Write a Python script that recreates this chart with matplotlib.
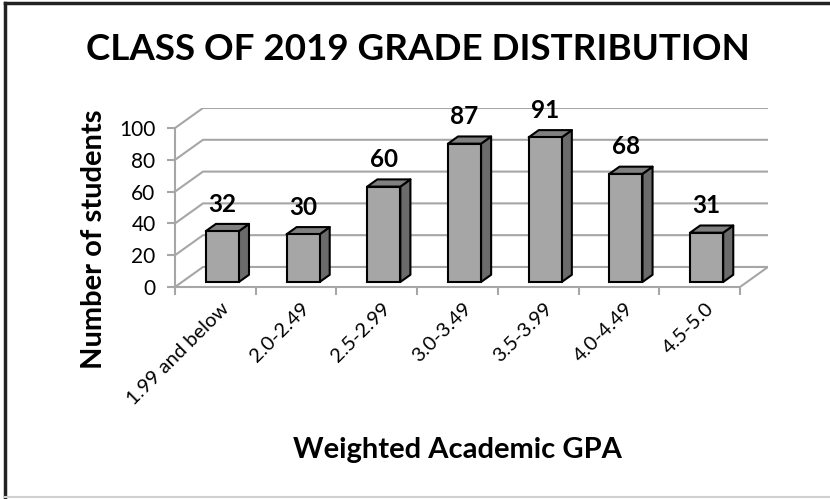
import numpy as np
import matplotlib
matplotlib.use("Agg")
import matplotlib.pyplot as plt
import matplotlib.transforms as mtransforms
from matplotlib.patches import Polygon
from matplotlib.lines import Line2D

# data
categories = ["1.99 and below", "2.0-2.49", "2.5-2.99", "3.0-3.49",
              "3.5-3.99", "4.0-4.49", "4.5-5.0"]
students = [32, 30, 60, 87, 91, 68, 31]
y_ticks = [0, 20, 40, 60, 80, 100]

# fake 3d settings (depth offset in data units)
DX = 0.347   # category units for full depth
DY = 12.6    # value units for full depth
d0, d1 = 0.25, 0.61   # bar front/back depth
bar_w = 0.41
front_c = "#a6a6a6"
side_c = "#6b6b6b"
top_c = "#808080"
grid_c = "#a6a6a6"

plt.rcParams["font.family"] = ["Lato", "DejaVu Sans"]

fig = plt.figure(figsize=(8.3, 4.99), dpi=100)
W, H = 830, 499
left, right, top, bottom = 175, 768, 108, 287
ax = fig.add_axes([left / W, 1 - bottom / H, (right - left) / W, (bottom - top) / H])
n = len(categories)
ax.set_xlim(0, n + DX)
ax.set_ylim(0, 100 + DY)

# walls / gridlines
for yv in y_ticks:
    ax.plot([0, DX, n + DX], [yv, yv + DY, yv + DY], color=grid_c, lw=1.5,
            solid_capstyle="butt", zorder=1)
ax.plot([n, n + DX], [0, DY], color=grid_c, lw=1.5, zorder=1)

# bars
xs = np.arange(n) + 0.5 - bar_w / 2 + d0 * DX
vals = np.array(students)
ax.bar(xs, vals, width=bar_w, bottom=d0 * DY, align="edge", color=front_c,
       edgecolor="black", linewidth=1.5, zorder=4)
dd = d1 - d0
for x0, v in zip(xs, vals):
    yb = d0 * DY
    side = [(x0 + bar_w, yb), (x0 + bar_w + dd * DX, yb + dd * DY),
            (x0 + bar_w + dd * DX, yb + v + dd * DY), (x0 + bar_w, yb + v)]
    topf = [(x0, yb + v), (x0 + bar_w, yb + v),
            (x0 + bar_w + dd * DX, yb + v + dd * DY), (x0 + dd * DX, yb + v + dd * DY)]
    ax.add_patch(Polygon(side, closed=True, facecolor=side_c, edgecolor="black",
                         lw=1.5, zorder=3, joinstyle="round"))
    ax.add_patch(Polygon(topf, closed=True, facecolor=top_c, edgecolor="black",
                         lw=1.5, zorder=3, joinstyle="round"))
    ax.text(x0 + bar_w / 2, yb + v + 17, str(v), ha="center", va="center",
            fontsize=17.5, fontweight="bold", zorder=5)

# axes
for s in ["top", "right"]:
    ax.spines[s].set_visible(False)
ax.spines["left"].set_bounds(0, 100)
ax.spines["bottom"].set_bounds(0, n)
for s in ["left", "bottom"]:
    ax.spines[s].set_color(grid_c)
    ax.spines[s].set_linewidth(1.5)
ax.set_yticks(y_ticks)
ax.set_yticklabels([str(t) for t in y_ticks], fontsize=15)
ax.tick_params(axis="y", length=6, color=grid_c, width=1.5, pad=8)
ax.set_xticks(np.arange(n) + 0.5)
ax.set_xticklabels(categories, fontsize=14.5, rotation=45, ha="right",
                   rotation_mode="anchor")
ax.set_xticks(np.arange(n + 1), minor=True)
ax.tick_params(axis="x", which="major", length=0, pad=9)
ax.tick_params(axis="x", which="minor", length=6, color=grid_c, width=1.5)
shift = mtransforms.ScaledTranslation(5 / 100, 0, fig.dpi_scale_trans)
for lab in ax.get_xticklabels():
    lab.set_transform(lab.get_transform() + shift)
ax.patch.set_alpha(0)

# titles
fig.text(0.503, 1 - 50 / H, "CLASS OF 2019 GRADE DISTRIBUTION", ha="center",
         va="center", fontsize=26.5, fontweight="bold")
fig.text(94 / W, 1 - 239 / H, "Number of students", ha="center", va="center",
         rotation=90, fontsize=21, fontweight="bold")
fig.text(457 / W, 1 - 450 / H, "Weighted Academic GPA", ha="center", va="center",
         fontsize=21, fontweight="bold")

# frame
fig.add_artist(Line2D([5 / W, 5 / W], [0.005, 1 - 3 / H], color="#222222", lw=2.5))
fig.add_artist(Line2D([5 / W, 1], [1 - 3 / H, 1 - 3 / H], color="#222222", lw=2.5))
fig.add_artist(Line2D([5 / W, 1], [2 / H, 2 / H], color="#d0d0d0", lw=1.5))

fig.savefig("out.png", dpi=100)
